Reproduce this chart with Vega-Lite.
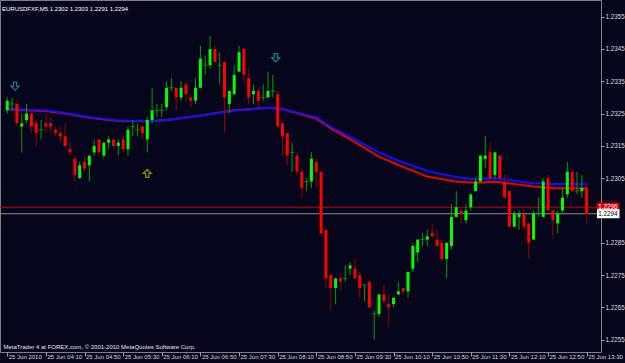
{
  "$schema": "https://vega.github.io/schema/vega-lite/v6.json",
  "width": 601,
  "height": 352,
  "autosize": {"type": "none"},
  "padding": {"left": 0, "top": 0, "right": 24, "bottom": 11},
  "background": "#05051c",
  "config": {
    "view": {"stroke": "#808080", "strokeWidth": 1},
    "font": "Liberation Sans"
  },
  "title": {
    "text": "EURUSDFXF,M5  1.2302 1.2303 1.2291 1.2294",
    "orient": "top",
    "anchor": "start",
    "frame": "group",
    "offset": -12,
    "baseline": "top",
    "dx": 2,
    "fontSize": 6,
    "fontWeight": "normal",
    "color": "#ffffff"
  },
  "datasets": {
    "candles": [
      {"t": "2010-06-25 03:30", "o": 1.2326, "h": 1.2330, "l": 1.2325, "c": 1.2329},
      {"t": "2010-06-25 03:35", "o": 1.2328, "h": 1.2330, "l": 1.2326, "c": 1.2328},
      {"t": "2010-06-25 03:40", "o": 1.2328, "h": 1.2329, "l": 1.2321, "c": 1.2322},
      {"t": "2010-06-25 03:45", "o": 1.2321, "h": 1.2325, "l": 1.2313, "c": 1.2322},
      {"t": "2010-06-25 03:50", "o": 1.2323, "h": 1.2328, "l": 1.2322, "c": 1.2325},
      {"t": "2010-06-25 03:55", "o": 1.2325, "h": 1.2326, "l": 1.2319, "c": 1.2321},
      {"t": "2010-06-25 04:00", "o": 1.2322, "h": 1.2323, "l": 1.2315, "c": 1.2319},
      {"t": "2010-06-25 04:05", "o": 1.2320, "h": 1.2323, "l": 1.2317, "c": 1.2320},
      {"t": "2010-06-25 04:10", "o": 1.2322, "h": 1.2325, "l": 1.2319, "c": 1.2321},
      {"t": "2010-06-25 04:15", "o": 1.2322, "h": 1.2324, "l": 1.2319, "c": 1.2321},
      {"t": "2010-06-25 04:20", "o": 1.2320, "h": 1.2321, "l": 1.2318, "c": 1.2319},
      {"t": "2010-06-25 04:25", "o": 1.2319, "h": 1.2321, "l": 1.2316, "c": 1.2318},
      {"t": "2010-06-25 04:30", "o": 1.2318, "h": 1.2322, "l": 1.2315, "c": 1.2315},
      {"t": "2010-06-25 04:35", "o": 1.2314, "h": 1.2316, "l": 1.2312, "c": 1.2313},
      {"t": "2010-06-25 04:40", "o": 1.2311, "h": 1.2312, "l": 1.2304, "c": 1.2306},
      {"t": "2010-06-25 04:45", "o": 1.2305, "h": 1.2310, "l": 1.2305, "c": 1.2309},
      {"t": "2010-06-25 04:50", "o": 1.2310, "h": 1.2312, "l": 1.2307, "c": 1.2308},
      {"t": "2010-06-25 04:55", "o": 1.2309, "h": 1.2312, "l": 1.2304, "c": 1.2312},
      {"t": "2010-06-25 05:00", "o": 1.2313, "h": 1.2317, "l": 1.2312, "c": 1.2315},
      {"t": "2010-06-25 05:05", "o": 1.2317, "h": 1.2317, "l": 1.2312, "c": 1.2313},
      {"t": "2010-06-25 05:10", "o": 1.2312, "h": 1.2316, "l": 1.2311, "c": 1.2316},
      {"t": "2010-06-25 05:15", "o": 1.2316, "h": 1.2318, "l": 1.2314, "c": 1.2317},
      {"t": "2010-06-25 05:20", "o": 1.2317, "h": 1.2317, "l": 1.2315, "c": 1.2315},
      {"t": "2010-06-25 05:25", "o": 1.2315, "h": 1.2317, "l": 1.2312, "c": 1.2316},
      {"t": "2010-06-25 05:30", "o": 1.2317, "h": 1.2318, "l": 1.2313, "c": 1.2314},
      {"t": "2010-06-25 05:35", "o": 1.2314, "h": 1.2321, "l": 1.2312, "c": 1.2320},
      {"t": "2010-06-25 05:40", "o": 1.2321, "h": 1.2323, "l": 1.2318, "c": 1.2321},
      {"t": "2010-06-25 05:45", "o": 1.2320, "h": 1.2322, "l": 1.2318, "c": 1.2320},
      {"t": "2010-06-25 05:50", "o": 1.2321, "h": 1.2321, "l": 1.2317, "c": 1.2319},
      {"t": "2010-06-25 05:55", "o": 1.2317, "h": 1.2324, "l": 1.2313, "c": 1.2323},
      {"t": "2010-06-25 06:00", "o": 1.2323, "h": 1.2333, "l": 1.2322, "c": 1.2326},
      {"t": "2010-06-25 06:05", "o": 1.2326, "h": 1.2328, "l": 1.2324, "c": 1.2326},
      {"t": "2010-06-25 06:10", "o": 1.2326, "h": 1.2328, "l": 1.2324, "c": 1.2326},
      {"t": "2010-06-25 06:15", "o": 1.2327, "h": 1.2335, "l": 1.2326, "c": 1.2333},
      {"t": "2010-06-25 06:20", "o": 1.2333, "h": 1.2336, "l": 1.2332, "c": 1.2333},
      {"t": "2010-06-25 06:25", "o": 1.2333, "h": 1.2333, "l": 1.2326, "c": 1.2330},
      {"t": "2010-06-25 06:30", "o": 1.2330, "h": 1.2335, "l": 1.2329, "c": 1.2333},
      {"t": "2010-06-25 06:35", "o": 1.2334, "h": 1.2335, "l": 1.2329, "c": 1.2331},
      {"t": "2010-06-25 06:40", "o": 1.2330, "h": 1.2331, "l": 1.2327, "c": 1.2329},
      {"t": "2010-06-25 06:45", "o": 1.2329, "h": 1.2336, "l": 1.2328, "c": 1.2333},
      {"t": "2010-06-25 06:50", "o": 1.2333, "h": 1.2346, "l": 1.2333, "c": 1.2342},
      {"t": "2010-06-25 06:55", "o": 1.2340, "h": 1.2343, "l": 1.2337, "c": 1.2340},
      {"t": "2010-06-25 07:00", "o": 1.2340, "h": 1.2349, "l": 1.2339, "c": 1.2345},
      {"t": "2010-06-25 07:05", "o": 1.2345, "h": 1.2346, "l": 1.2341, "c": 1.2341},
      {"t": "2010-06-25 07:10", "o": 1.2340, "h": 1.2344, "l": 1.2334, "c": 1.2340},
      {"t": "2010-06-25 07:15", "o": 1.2341, "h": 1.2341, "l": 1.2319, "c": 1.2330},
      {"t": "2010-06-25 07:20", "o": 1.2328, "h": 1.2332, "l": 1.2325, "c": 1.2332},
      {"t": "2010-06-25 07:25", "o": 1.2331, "h": 1.2340, "l": 1.2331, "c": 1.2337},
      {"t": "2010-06-25 07:30", "o": 1.2338, "h": 1.2346, "l": 1.2338, "c": 1.2344},
      {"t": "2010-06-25 07:35", "o": 1.2345, "h": 1.2345, "l": 1.2335, "c": 1.2337},
      {"t": "2010-06-25 07:40", "o": 1.2336, "h": 1.2339, "l": 1.2328, "c": 1.2330},
      {"t": "2010-06-25 07:45", "o": 1.2331, "h": 1.2334, "l": 1.2328, "c": 1.2332},
      {"t": "2010-06-25 07:50", "o": 1.2332, "h": 1.2333, "l": 1.2327, "c": 1.2329},
      {"t": "2010-06-25 07:55", "o": 1.2330, "h": 1.2334, "l": 1.2329, "c": 1.2330},
      {"t": "2010-06-25 08:00", "o": 1.2330, "h": 1.2338, "l": 1.2330, "c": 1.2332},
      {"t": "2010-06-25 08:05", "o": 1.2332, "h": 1.2337, "l": 1.2330, "c": 1.2332},
      {"t": "2010-06-25 08:10", "o": 1.2331, "h": 1.2332, "l": 1.2321, "c": 1.2321},
      {"t": "2010-06-25 08:15", "o": 1.2322, "h": 1.2322, "l": 1.2312, "c": 1.2318},
      {"t": "2010-06-25 08:20", "o": 1.2319, "h": 1.2319, "l": 1.2309, "c": 1.2312},
      {"t": "2010-06-25 08:25", "o": 1.2313, "h": 1.2316, "l": 1.2307, "c": 1.2313},
      {"t": "2010-06-25 08:30", "o": 1.2312, "h": 1.2313, "l": 1.2306, "c": 1.2307},
      {"t": "2010-06-25 08:35", "o": 1.2307, "h": 1.2308, "l": 1.2299, "c": 1.2302},
      {"t": "2010-06-25 08:40", "o": 1.2304, "h": 1.2305, "l": 1.2301, "c": 1.2304},
      {"t": "2010-06-25 08:45", "o": 1.2304, "h": 1.2313, "l": 1.2302, "c": 1.2311},
      {"t": "2010-06-25 08:50", "o": 1.2310, "h": 1.2311, "l": 1.2302, "c": 1.2307},
      {"t": "2010-06-25 08:55", "o": 1.2307, "h": 1.2307, "l": 1.2287, "c": 1.2288},
      {"t": "2010-06-25 09:00", "o": 1.2289, "h": 1.2289, "l": 1.2271, "c": 1.2274},
      {"t": "2010-06-25 09:05", "o": 1.2275, "h": 1.2275, "l": 1.2264, "c": 1.2271},
      {"t": "2010-06-25 09:10", "o": 1.2271, "h": 1.2274, "l": 1.2266, "c": 1.2274},
      {"t": "2010-06-25 09:15", "o": 1.2274, "h": 1.2275, "l": 1.2270, "c": 1.2273},
      {"t": "2010-06-25 09:20", "o": 1.2274, "h": 1.2278, "l": 1.2273, "c": 1.2274},
      {"t": "2010-06-25 09:25", "o": 1.2277, "h": 1.2279, "l": 1.2275, "c": 1.2278},
      {"t": "2010-06-25 09:30", "o": 1.2277, "h": 1.2280, "l": 1.2274, "c": 1.2274},
      {"t": "2010-06-25 09:35", "o": 1.2275, "h": 1.2276, "l": 1.2268, "c": 1.2271},
      {"t": "2010-06-25 09:40", "o": 1.2272, "h": 1.2272, "l": 1.2267, "c": 1.2272},
      {"t": "2010-06-25 09:45", "o": 1.2273, "h": 1.2273, "l": 1.2265, "c": 1.2265},
      {"t": "2010-06-25 09:50", "o": 1.2263, "h": 1.2264, "l": 1.2255, "c": 1.2263},
      {"t": "2010-06-25 09:55", "o": 1.2263, "h": 1.2269, "l": 1.2262, "c": 1.2269},
      {"t": "2010-06-25 10:00", "o": 1.2269, "h": 1.2272, "l": 1.2266, "c": 1.2267},
      {"t": "2010-06-25 10:05", "o": 1.2266, "h": 1.2269, "l": 1.2259, "c": 1.2265},
      {"t": "2010-06-25 10:10", "o": 1.2266, "h": 1.2268, "l": 1.2265, "c": 1.2268},
      {"t": "2010-06-25 10:15", "o": 1.2269, "h": 1.2273, "l": 1.2269, "c": 1.2270},
      {"t": "2010-06-25 10:20", "o": 1.2271, "h": 1.2271, "l": 1.2269, "c": 1.2270},
      {"t": "2010-06-25 10:25", "o": 1.2270, "h": 1.2276, "l": 1.2268, "c": 1.2276},
      {"t": "2010-06-25 10:30", "o": 1.2277, "h": 1.2285, "l": 1.2276, "c": 1.2284},
      {"t": "2010-06-25 10:35", "o": 1.2282, "h": 1.2286, "l": 1.2279, "c": 1.2286},
      {"t": "2010-06-25 10:40", "o": 1.2286, "h": 1.2288, "l": 1.2284, "c": 1.2286},
      {"t": "2010-06-25 10:45", "o": 1.2286, "h": 1.2289, "l": 1.2284, "c": 1.2287},
      {"t": "2010-06-25 10:50", "o": 1.2288, "h": 1.2291, "l": 1.2287, "c": 1.2287},
      {"t": "2010-06-25 10:55", "o": 1.2286, "h": 1.2289, "l": 1.2284, "c": 1.2284},
      {"t": "2010-06-25 11:00", "o": 1.2285, "h": 1.2286, "l": 1.2279, "c": 1.2280},
      {"t": "2010-06-25 11:05", "o": 1.2280, "h": 1.2285, "l": 1.2274, "c": 1.2285},
      {"t": "2010-06-25 11:10", "o": 1.2284, "h": 1.2297, "l": 1.2283, "c": 1.2293},
      {"t": "2010-06-25 11:15", "o": 1.2293, "h": 1.2301, "l": 1.2293, "c": 1.2296},
      {"t": "2010-06-25 11:20", "o": 1.2295, "h": 1.2295, "l": 1.2291, "c": 1.2294},
      {"t": "2010-06-25 11:25", "o": 1.2292, "h": 1.2297, "l": 1.2291, "c": 1.2295},
      {"t": "2010-06-25 11:30", "o": 1.2296, "h": 1.2300, "l": 1.2295, "c": 1.2300},
      {"t": "2010-06-25 11:35", "o": 1.2301, "h": 1.2305, "l": 1.2301, "c": 1.2304},
      {"t": "2010-06-25 11:40", "o": 1.2304, "h": 1.2312, "l": 1.2304, "c": 1.2312},
      {"t": "2010-06-25 11:45", "o": 1.2311, "h": 1.2318, "l": 1.2308, "c": 1.2312},
      {"t": "2010-06-25 11:50", "o": 1.2313, "h": 1.2316, "l": 1.2305, "c": 1.2305},
      {"t": "2010-06-25 11:55", "o": 1.2306, "h": 1.2313, "l": 1.2305, "c": 1.2313},
      {"t": "2010-06-25 12:00", "o": 1.2312, "h": 1.2312, "l": 1.2305, "c": 1.2305},
      {"t": "2010-06-25 12:05", "o": 1.2304, "h": 1.2306, "l": 1.2299, "c": 1.2299},
      {"t": "2010-06-25 12:10", "o": 1.2301, "h": 1.2301, "l": 1.2290, "c": 1.2290},
      {"t": "2010-06-25 12:15", "o": 1.2290, "h": 1.2295, "l": 1.2290, "c": 1.2294},
      {"t": "2010-06-25 12:20", "o": 1.2293, "h": 1.2295, "l": 1.2289, "c": 1.2294},
      {"t": "2010-06-25 12:25", "o": 1.2294, "h": 1.2295, "l": 1.2289, "c": 1.2290},
      {"t": "2010-06-25 12:30", "o": 1.2291, "h": 1.2291, "l": 1.2280, "c": 1.2285},
      {"t": "2010-06-25 12:35", "o": 1.2286, "h": 1.2295, "l": 1.2286, "c": 1.2294},
      {"t": "2010-06-25 12:40", "o": 1.2294, "h": 1.2299, "l": 1.2293, "c": 1.2294},
      {"t": "2010-06-25 12:45", "o": 1.2293, "h": 1.2305, "l": 1.2293, "c": 1.2304},
      {"t": "2010-06-25 12:50", "o": 1.2305, "h": 1.2306, "l": 1.2295, "c": 1.2295},
      {"t": "2010-06-25 12:55", "o": 1.2295, "h": 1.2295, "l": 1.2287, "c": 1.2292},
      {"t": "2010-06-25 13:00", "o": 1.2291, "h": 1.2295, "l": 1.2288, "c": 1.2294},
      {"t": "2010-06-25 13:05", "o": 1.2295, "h": 1.2302, "l": 1.2294, "c": 1.2299},
      {"t": "2010-06-25 13:10", "o": 1.2300, "h": 1.2310, "l": 1.2299, "c": 1.2307},
      {"t": "2010-06-25 13:15", "o": 1.2307, "h": 1.2307, "l": 1.2301, "c": 1.2301},
      {"t": "2010-06-25 13:20", "o": 1.2301, "h": 1.2307, "l": 1.2300, "c": 1.2301},
      {"t": "2010-06-25 13:25", "o": 1.2301, "h": 1.2306, "l": 1.2299, "c": 1.2302},
      {"t": "2010-06-25 13:30", "o": 1.2302, "h": 1.2303, "l": 1.2291, "c": 1.2294}
    ],
    "ma": [
      {"t": "2010-06-25 03:30", "blue": 1.23264, "red": 1.23263},
      {"t": "2010-06-25 04:10", "blue": 1.23260, "red": 1.23258},
      {"t": "2010-06-25 04:30", "blue": 1.23252, "red": 1.23250},
      {"t": "2010-06-25 04:55", "blue": 1.23239, "red": 1.23237},
      {"t": "2010-06-25 05:25", "blue": 1.23229, "red": 1.23227},
      {"t": "2010-06-25 06:00", "blue": 1.23227, "red": 1.23226},
      {"t": "2010-06-25 06:20", "blue": 1.23232, "red": 1.23232},
      {"t": "2010-06-25 06:50", "blue": 1.23243, "red": 1.23244},
      {"t": "2010-06-25 07:05", "blue": 1.23250, "red": 1.23251},
      {"t": "2010-06-25 07:25", "blue": 1.23259, "red": 1.23260},
      {"t": "2010-06-25 08:00", "blue": 1.23268, "red": 1.23268},
      {"t": "2010-06-25 08:15", "blue": 1.23263, "red": 1.23264},
      {"t": "2010-06-25 08:30", "blue": 1.23253, "red": 1.23252},
      {"t": "2010-06-25 08:50", "blue": 1.23239, "red": 1.23235},
      {"t": "2010-06-25 09:05", "blue": 1.23209, "red": 1.23204},
      {"t": "2010-06-25 09:25", "blue": 1.23179, "red": 1.23171},
      {"t": "2010-06-25 09:40", "blue": 1.23155, "red": 1.23144},
      {"t": "2010-06-25 09:55", "blue": 1.23130, "red": 1.23117},
      {"t": "2010-06-25 10:15", "blue": 1.23104, "red": 1.23091},
      {"t": "2010-06-25 10:45", "blue": 1.23073, "red": 1.23055},
      {"t": "2010-06-25 10:55", "blue": 1.23065, "red": 1.23050},
      {"t": "2010-06-25 11:15", "blue": 1.23054, "red": 1.23039},
      {"t": "2010-06-25 11:35", "blue": 1.23047, "red": 1.23036},
      {"t": "2010-06-25 11:55", "blue": 1.23050, "red": 1.23039},
      {"t": "2010-06-25 12:15", "blue": 1.23042, "red": 1.23032},
      {"t": "2010-06-25 12:35", "blue": 1.23034, "red": 1.23024},
      {"t": "2010-06-25 12:55", "blue": 1.23032, "red": 1.23019},
      {"t": "2010-06-25 13:15", "blue": 1.23032, "red": 1.23019},
      {"t": "2010-06-25 13:30", "blue": 1.23031, "red": 1.23019}
    ],
    "arrows": [
      {"t": "2010-06-25 03:38", "price": 1.23335, "dir": "down"},
      {"t": "2010-06-25 05:55", "price": 1.23065, "dir": "up"},
      {"t": "2010-06-25 08:08", "price": 1.23423, "dir": "down"}
    ]
  },
  "layer": [
    {
      "data": {"name": "ma"},
      "mark": {"type": "line", "stroke": "#f00000", "strokeWidth": 2},
      "encoding": {
        "x": {
          "field": "t",
          "type": "temporal",
          "scale": {
            "domain": [
              {"year": 2010, "month": 6, "date": 25, "hours": 3, "minutes": 27, "seconds": 40},
              {"year": 2010, "month": 6, "date": 25, "hours": 13, "minutes": 39, "seconds": 40}
            ],
            "nice": false
          },
          "axis": {
            "orient": "bottom",
            "tickCount": 40,
            "values": [
              {"year": 2010, "month": 6, "date": 25, "hours": 3, "minutes": 30},
              {"year": 2010, "month": 6, "date": 25, "hours": 4, "minutes": 10},
              {"year": 2010, "month": 6, "date": 25, "hours": 4, "minutes": 50},
              {"year": 2010, "month": 6, "date": 25, "hours": 5, "minutes": 30},
              {"year": 2010, "month": 6, "date": 25, "hours": 6, "minutes": 10},
              {"year": 2010, "month": 6, "date": 25, "hours": 6, "minutes": 50},
              {"year": 2010, "month": 6, "date": 25, "hours": 7, "minutes": 30},
              {"year": 2010, "month": 6, "date": 25, "hours": 8, "minutes": 10},
              {"year": 2010, "month": 6, "date": 25, "hours": 8, "minutes": 50},
              {"year": 2010, "month": 6, "date": 25, "hours": 9, "minutes": 30},
              {"year": 2010, "month": 6, "date": 25, "hours": 10, "minutes": 10},
              {"year": 2010, "month": 6, "date": 25, "hours": 10, "minutes": 50},
              {"year": 2010, "month": 6, "date": 25, "hours": 11, "minutes": 30},
              {"year": 2010, "month": 6, "date": 25, "hours": 12, "minutes": 10},
              {"year": 2010, "month": 6, "date": 25, "hours": 12, "minutes": 50},
              {"year": 2010, "month": 6, "date": 25, "hours": 13, "minutes": 30}
            ],
            "labelExpr": "timeFormat(datum.value, '%H:%M') == '03:30' ? '25 Jun 2010' : timeFormat(datum.value, '%d %b %H:%M')",
            "labelAlign": "left",
            "labelBaseline": "top",
            "labelOffset": 1,
            "labelPadding": -3,
            "labelOverlap": false,
            "labelFlush": false,
            "labelFontSize": 6,
            "labelColor": "#d8d8d8",
            "tickSize": 4,
            "tickColor": "#a0a0a0",
            "domain": false,
            "grid": false,
            "title": "MetaTrader 4 at FOREX.com, © 2001-2010 MetaQuotes Software Corp.",
            "titleX": 3,
            "titleY": -3,
            "titleAlign": "left",
            "titleBaseline": "bottom",
            "titleFontSize": 6,
            "titleFontWeight": "normal",
            "titleColor": "#e8e8e8"
          }
        },
        "y": {
          "field": "red",
          "type": "quantitative",
          "scale": {"domain": [1.225119, 1.236017], "zero": false, "nice": false},
          "axis": {
            "orient": "right",
            "tickCount": 40,
            "values": [1.2255, 1.2265, 1.2275, 1.2285, 1.2305, 1.2315, 1.2325, 1.2335, 1.2345, 1.2355],
            "format": ".4f",
            "labelFontSize": 6.3,
            "labelColor": "#d8d8d8",
            "labelPadding": 1,
            "labelOverlap": false,
            "labelFlush": false,
            "tickSize": 3,
            "tickColor": "#a0a0a0",
            "domain": false,
            "grid": false,
            "title": null
          }
        }
      }
    },
    {
      "data": {"name": "ma"},
      "mark": {"type": "line", "stroke": "#1010ff", "strokeWidth": 2},
      "encoding": {
        "x": {"field": "t", "type": "temporal"},
        "y": {"field": "blue", "type": "quantitative"}
      }
    },
    {
      "data": {"values": [{}]},
      "mark": {"type": "rule", "stroke": "#c00000", "strokeWidth": 1},
      "encoding": {"y": {"datum": 1.2296, "type": "quantitative"}}
    },
    {
      "data": {"values": [{}]},
      "mark": {"type": "rule", "stroke": "#8c8c8c", "strokeWidth": 1},
      "encoding": {"y": {"datum": 1.2294, "type": "quantitative"}}
    },
    {
      "data": {"name": "candles"},
      "mark": {"type": "rule", "strokeWidth": 1},
      "encoding": {
        "x": {"field": "t", "type": "temporal"},
        "y": {"field": "l", "type": "quantitative"},
        "y2": {"field": "h"},
        "color": {"condition": {"test": "datum.c >= datum.o", "value": "#00a000"}, "value": "#9a0000"}
      }
    },
    {
      "data": {"name": "candles"},
      "mark": {"type": "bar", "width": 3},
      "encoding": {
        "x": {"field": "t", "type": "temporal"},
        "y": {"field": "o", "type": "quantitative"},
        "y2": {"field": "c"},
        "color": {"condition": {"test": "datum.c >= datum.o", "value": "#00ff00"}, "value": "#ff0000"}
      }
    },
    {
      "data": {"name": "candles"},
      "transform": [{"filter": "datum.o == datum.c"}],
      "mark": {"type": "tick", "orient": "horizontal", "size": 5, "thickness": 1, "color": "#00b000"},
      "encoding": {
        "x": {"field": "t", "type": "temporal"},
        "y": {"field": "c", "type": "quantitative"}
      }
    },
    {
      "data": {"name": "arrows"},
      "mark": {"type": "point", "filled": false, "strokeWidth": 1.3, "size": 64},
      "encoding": {
        "x": {"field": "t", "type": "temporal"},
        "y": {"field": "price", "type": "quantitative"},
        "shape": {
          "field": "dir",
          "type": "nominal",
          "scale": {
            "domain": ["down", "up"],
            "range": ["M-0.4,-1L0.4,-1L0.4,0L1,0L0,1L-1,0L-0.4,0Z", "M-0.4,1L0.4,1L0.4,0L1,0L0,-1L-1,0L-0.4,0Z"]
          },
          "legend": null
        },
        "color": {
          "field": "dir",
          "type": "nominal",
          "scale": {"domain": ["down", "up"], "range": ["#20b0b8", "#d0c000"]},
          "legend": null
        }
      }
    },
    {
      "data": {"values": [{}]},
      "mark": {"type": "rect", "fill": "#e00000"},
      "encoding": {
        "x": {"datum": {"year": 2010, "month": 6, "date": 25, "hours": 13, "minutes": 40, "seconds": 40}, "type": "temporal"},
        "x2": {"datum": {"year": 2010, "month": 6, "date": 25, "hours": 14, "minutes": 4, "seconds": 0}},
        "y": {"datum": 1.22974, "type": "quantitative"},
        "y2": {"datum": 1.22946}
      }
    },
    {
      "data": {"values": [{}]},
      "mark": {"type": "text", "align": "left", "baseline": "middle", "fontSize": 6.3, "color": "#ffffff"},
      "encoding": {
        "x": {"datum": {"year": 2010, "month": 6, "date": 25, "hours": 13, "minutes": 42, "seconds": 0}, "type": "temporal"},
        "y": {"datum": 1.2296, "type": "quantitative"},
        "text": {"value": "1.2296"}
      }
    },
    {
      "data": {"values": [{}]},
      "mark": {"type": "rect", "fill": "#ffffff"},
      "encoding": {
        "x": {"datum": {"year": 2010, "month": 6, "date": 25, "hours": 13, "minutes": 40, "seconds": 40}, "type": "temporal"},
        "x2": {"datum": {"year": 2010, "month": 6, "date": 25, "hours": 14, "minutes": 4, "seconds": 0}},
        "y": {"datum": 1.22954, "type": "quantitative"},
        "y2": {"datum": 1.22926}
      }
    },
    {
      "data": {"values": [{}]},
      "mark": {"type": "text", "align": "left", "baseline": "middle", "fontSize": 6.3, "color": "#000000"},
      "encoding": {
        "x": {"datum": {"year": 2010, "month": 6, "date": 25, "hours": 13, "minutes": 42, "seconds": 0}, "type": "temporal"},
        "y": {"datum": 1.2294, "type": "quantitative"},
        "text": {"value": "1.2294"}
      }
    }
  ]
}
